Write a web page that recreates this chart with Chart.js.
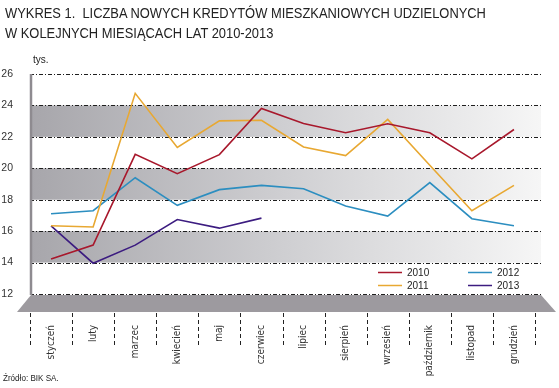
<!DOCTYPE html>
<html>
<head>
<meta charset="utf-8">
<script src="https://cdn.jsdelivr.net/npm/chart.js@4"></script>
<style>
  body { margin: 0; background: #fff; }
  #wrap { position: relative; width: 559px; height: 388px; }
  canvas { position: absolute; left: 0; top: 0; }
  .txt { position: absolute; font-family: "Liberation Sans", Arial, sans-serif; color: #222; white-space: nowrap; transform-origin: 0 0; }
</style>
</head>
<body>
<div id="wrap">
  <canvas id="chart" width="559" height="388"></canvas>
  <div class="txt" style="left:5px;top:3px;font-size:15px;line-height:20px;transform:scaleX(0.86)">WYKRES 1.&nbsp; LICZBA NOWYCH KREDYTÓW MIESZKANIOWYCH UDZIELONYCH<br>W KOLEJNYCH MIESIĄCACH LAT 2010-2013</div>
  <div class="txt" style="left:33px;top:54px;font-size:10px">tys.</div>
  <div class="txt" style="left:3px;top:372px;font-size:9.5px;transform:scaleX(0.85)">Źródło: BIK SA.</div>
</div>
<script>
const months = ['styczeń', 'luty', 'marzec', 'kwiecień', 'maj', 'czerwiec', 'lipiec', 'sierpień', 'wrzesień', 'październik', 'listopad', 'grudzień'];
const years = ['2010', '2011', '2012', '2013'];
const v2010 = [14.23, 15.11, 20.89, 19.66, 20.87, 23.81, 22.85, 22.26, 22.83, 22.26, 20.6, 22.47];
const v2011 = [16.34, 16.26, 24.77, 21.32, 23.02, 23.06, 21.36, 20.81, 23.11, 20.19, 17.3, 18.91];
const v2012 = [17.11, 17.3, 19.4, 17.64, 18.64, 18.91, 18.7, 17.6, 16.96, 19.09, 16.79, 16.34];
const v2013 = [16.34, 13.96, 15.11, 16.74, 16.19, 16.83, null, null, null, null, null, null];
const yMin = 12, yMax = 26, yStep = 2;
const grayBands = [14, 18, 22]; // lower bound of each shaded band

const colors = ['#a8182c', '#e8a832', '#2c8ec0', '#3c1c80'];
const series = [v2010, v2011, v2012, v2013];

// background bands, grid, wall, floor and separators
const decor = {
  id: 'decor',
  beforeDatasetsDraw(chart) {
    const { ctx, chartArea: a, scales: { x, y } } = chart;
    const gx2 = a.right + 6;
    ctx.save();
    grayBands.forEach(v => {
      const top = y.getPixelForValue(v + yStep), bot = y.getPixelForValue(v);
      const g = ctx.createLinearGradient(a.left, 0, gx2, 0);
      g.addColorStop(0, '#a7a6ab');
      g.addColorStop(0.5, '#cfcfd2');
      g.addColorStop(1, '#f6f6f6');
      ctx.fillStyle = g;
      ctx.fillRect(a.left, top, gx2 - a.left, bot - top);
    });
    // horizontal grid
    ctx.strokeStyle = '#1e1e1e';
    ctx.lineWidth = 1;
    ctx.setLineDash([4, 2, 1, 2]);
    for (let v = yMin; v <= yMax; v += yStep) {
      const py = Math.round(y.getPixelForValue(v)) + 0.5;
      ctx.beginPath();
      ctx.moveTo(a.left, py);
      ctx.lineTo(gx2, py);
      ctx.stroke();
    }
    ctx.setLineDash([]);
    // left wall
    ctx.strokeStyle = '#8e8b90';
    ctx.lineWidth = 2.5;
    ctx.beginPath();
    ctx.moveTo(a.left + 1, y.getPixelForValue(yMax));
    ctx.lineTo(a.left + 1, a.bottom + 1);
    ctx.stroke();
    // floor
    ctx.fillStyle = '#9d9a9f';
    ctx.beginPath();
    ctx.moveTo(a.left + 1, a.bottom + 1);
    ctx.lineTo(gx2, a.bottom + 1);
    ctx.lineTo(gx2 + 15, a.bottom + 18);
    ctx.lineTo(17, a.bottom + 18);
    ctx.closePath();
    ctx.fill();
    // separators under the floor
    const band = (a.right - a.left) / months.length;
    ctx.strokeStyle = '#222';
    ctx.lineWidth = 1;
    ctx.setLineDash([4, 3]);
    for (let i = 0; i <= months.length; i++) {
      const px = Math.round(a.left + i * band) + 0.5;
      ctx.beginPath();
      ctx.moveTo(px, a.bottom + 19);
      ctx.lineTo(px, a.bottom + 52);
      ctx.stroke();
    }
    ctx.restore();
  },
  afterDatasetsDraw(chart) {
    const { ctx } = chart;
    ctx.save();
    ctx.font = '10px "Liberation Sans", Arial, sans-serif';
    ctx.textBaseline = 'middle';
    ctx.fillStyle = '#222';
    ctx.lineWidth = 1.5;
    chart.data.datasets.forEach((ds, i) => {
      const col = Math.floor(i / 2), row = i % 2;
      const lx = 378 + col * 90, ly = 272.5 + row * 13;
      ctx.strokeStyle = ds.borderColor;
      ctx.beginPath();
      ctx.moveTo(lx, ly);
      ctx.lineTo(lx + 24, ly);
      ctx.stroke();
      ctx.fillText(ds.label, lx + 29, ly + 0.5);
    });
    ctx.restore();
  }
};

new Chart(document.getElementById('chart'), {
  type: 'line',
  data: {
    labels: months,
    datasets: years.map((yr, i) => ({
      label: yr,
      data: series[i],
      borderColor: colors[i],
      backgroundColor: colors[i],
      borderWidth: 1.6,
      pointRadius: 0,
      tension: 0,
      fill: false
    }))
  },
  options: {
    responsive: false,
    animation: false,
    layout: { padding: { top: 74, right: 24, bottom: 0, left: 0 } },
    plugins: {
      legend: { display: false },
      tooltip: { enabled: false }
    },
    scales: {
      x: {
        offset: true,
        grid: { display: false },
        border: { display: false },
        ticks: {
          autoSkip: false,
          maxRotation: 90,
          minRotation: 90,
          padding: 23,
          color: '#333',
          font: { family: '"Liberation Sans Narrow", "DejaVu Sans Condensed", "Liberation Sans", Arial', size: 10 }
        },
        afterFit: s => { s.height = 94; }
      },
      y: {
        min: yMin,
        max: yMax,
        grid: { display: false },
        border: { display: false },
        ticks: {
          stepSize: yStep,
          padding: 9,
          color: '#333',
          font: { family: '"Liberation Sans", Arial', size: 10.5 }
        },
        afterFit: s => { s.width = 30; }
      }
    }
  },
  plugins: [decor]
});
</script>
</body>
</html>
